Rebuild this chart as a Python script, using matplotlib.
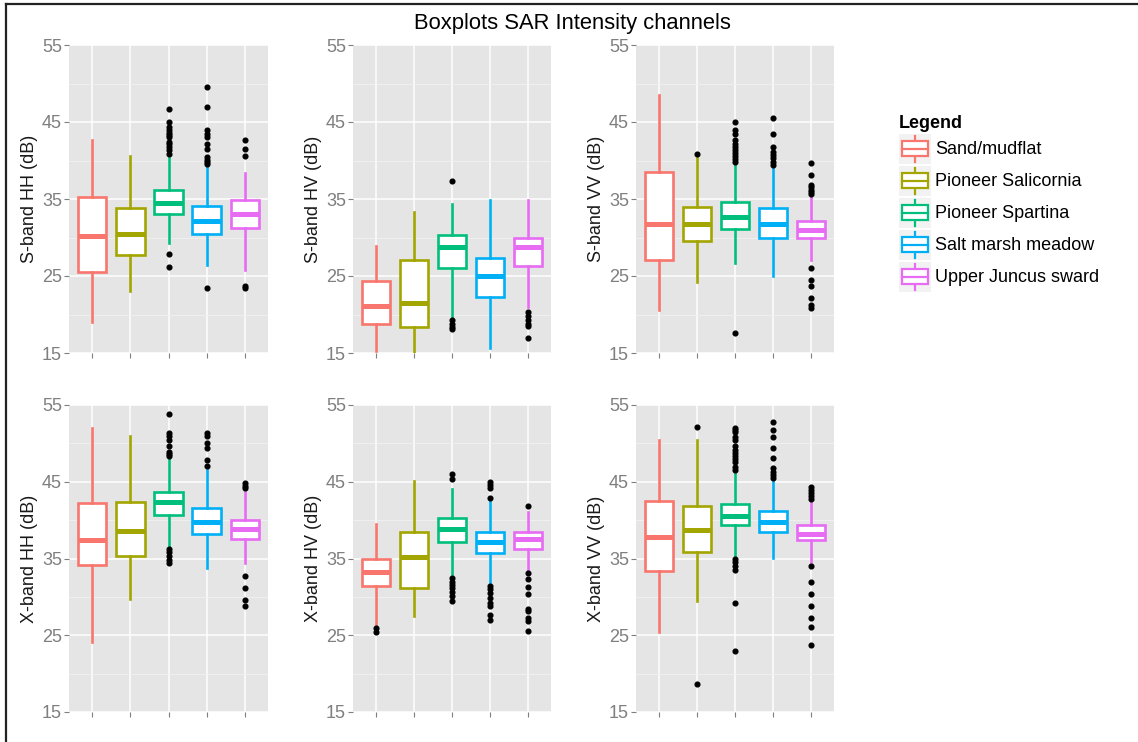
import matplotlib
matplotlib.use("Agg")
import matplotlib.pyplot as plt
from matplotlib.lines import Line2D
from matplotlib.patches import Rectangle
from matplotlib.legend_handler import HandlerBase

plt.rcParams["font.family"] = ["Liberation Sans", "DejaVu Sans"]

CLASSES = ["Sand/mudflat", "Pioneer Salicornia", "Pioneer Spartina",
           "Salt marsh meadow", "Upper Juncus sward"]
COLORS = ["#F8766D", "#A3A500", "#00BF7D", "#00B0F6", "#E76BF3"]

# (lower whisker, Q1, median, Q3, upper whisker) for each class, in dB
S_HH_STATS = [(19.0, 25.5, 30.2, 35.2, 42.7),
              (23.1, 27.7, 30.5, 33.8, 40.6),
              (29.3, 33.1, 34.5, 36.15, 40.3),
              (26.4, 30.5, 32.2, 34.1, 39.4),
              (25.8, 31.25, 33.0, 34.9, 38.4)]
S_HH_OUTLIERS = [[],
                 [],
                 [46.7, 45.0, 44.4, 43.9, 43.6, 43.3, 43.1, 42.4, 42.1, 41.8, 41.3, 40.9, 27.9, 26.2],
                 [49.5, 46.9, 44.0, 43.5, 43.1, 42.2, 41.5, 40.5, 40.1, 39.8, 39.6, 23.5],
                 [42.6, 41.5, 40.6, 23.7, 23.5]]

S_HV_STATS = [(15.3, 18.8, 21.1, 24.4, 28.9),
              (15.0, 18.4, 21.5, 27.05, 33.3),
              (19.6, 26.0, 28.8, 30.3, 34.4),
              (15.6, 22.3, 25.0, 27.4, 34.9),
              (21.0, 26.3, 28.8, 29.95, 34.9)]
S_HV_OUTLIERS = [[],
                 [],
                 [37.4, 19.25, 18.8, 18.4, 18.1],
                 [],
                 [20.3, 19.8, 19.25, 18.8, 18.5, 17.0]]

S_VV_STATS = [(20.55, 27.05, 31.8, 38.5, 48.5),
              (24.2, 29.5, 31.8, 34.0, 40.3),
              (26.7, 31.1, 32.6, 34.55, 39.6),
              (25.0, 30.0, 31.8, 33.8, 39.2),
              (27.05, 29.9, 31.0, 32.15, 35.5)]
S_VV_OUTLIERS = [[],
                 [40.9],
                 [45.0, 43.95, 43.4, 42.6, 42.2, 41.8, 41.4, 41.0, 40.6, 40.2, 39.8, 17.6],
                 [45.5, 43.4, 41.7, 41.1, 40.7, 40.3, 39.8, 39.4],
                 [39.7, 38.1, 36.8, 36.5, 36.2, 35.9, 35.7, 26.1, 24.5, 23.7, 22.2, 21.2, 20.9]]

X_HH_STATS = [(24.1, 34.1, 37.4, 42.2, 52.05),
              (29.7, 35.3, 38.6, 42.3, 50.9),
              (36.5, 40.7, 42.3, 43.7, 48.0),
              (33.8, 38.2, 39.8, 41.6, 46.5),
              (34.4, 37.6, 38.9, 40.0, 43.6)]
X_HH_OUTLIERS = [[],
                 [],
                 [53.8, 51.3, 50.9, 50.4, 49.7, 48.9, 48.6, 48.3, 36.2, 35.8, 35.3, 34.8, 34.4],
                 [51.4, 51.0, 50.1, 49.4, 47.8, 47.0],
                 [44.9, 44.4, 44.2, 32.7, 31.1, 29.6, 28.75]]

X_HV_STATS = [(26.15, 31.4, 33.3, 35.0, 39.5),
              (27.45, 31.1, 35.2, 38.4, 45.15),
              (33.0, 37.2, 38.8, 40.3, 44.1),
              (31.7, 35.7, 37.1, 38.5, 42.7),
              (33.5, 36.2, 37.5, 38.4, 41.1)]
X_HV_OUTLIERS = [[25.9, 25.4],
                 [],
                 [46.0, 45.4, 32.4, 32.0, 31.6, 31.1, 30.7, 30.1, 29.5],
                 [45.0, 44.6, 44.15, 42.85, 31.4, 30.99, 30.5, 29.8, 29.2, 28.75, 27.7, 27.0],
                 [41.8, 33.1, 32.3, 31.35, 30.4, 28.4, 28.1, 27.2, 26.8, 25.5]]

X_VV_STATS = [(25.4, 33.4, 37.8, 42.55, 50.45),
              (29.5, 35.8, 38.7, 41.8, 50.45),
              (35.2, 39.4, 40.55, 42.1, 46.1),
              (35.05, 38.5, 39.8, 41.2, 45.0),
              (34.5, 37.4, 38.2, 39.4, 42.3)]
X_VV_OUTLIERS = [[],
                 [52.1, 18.6],
                 [52.0, 51.75, 51.5, 50.8, 50.4, 49.6, 49.2, 48.8, 48.4, 48.0, 47.6,
                  46.9, 46.5, 34.9, 34.5, 34.05, 33.5, 29.2, 23.0],
                 [52.8, 51.7, 50.8, 49.45, 48.1, 46.75, 46.3, 45.9, 45.45],
                 [44.3, 43.9, 43.5, 43.1, 42.7, 34.0, 31.9, 30.4, 28.75, 27.3, 26.1, 23.7]]

PANEL_LABELS = ["S-band HH (dB)", "S-band HV (dB)", "S-band VV (dB)",
                "X-band HH (dB)", "X-band HV (dB)", "X-band VV (dB)"]
PANEL_STATS = [S_HH_STATS, S_HV_STATS, S_VV_STATS, X_HH_STATS, X_HV_STATS, X_VV_STATS]
PANEL_OUTLIERS = [S_HH_OUTLIERS, S_HV_OUTLIERS, S_VV_OUTLIERS,
                  X_HH_OUTLIERS, X_HV_OUTLIERS, X_VV_OUTLIERS]
Y_TICKS = [15, 25, 35, 45, 55]
Y_MINOR = [20, 30, 40, 50]

W, H = 1138, 742
fig = plt.figure(figsize=(W / 100, H / 100), dpi=100)

PANEL_BG = "#E5E5E5"
TICK_GREY = "#7F7F7F"

# panel rectangles in pixels: left, top, right, bottom
col_x = [(69, 268), (353, 551), (636, 834)]
row_y = [(45, 353), (405, 712)]


def px_axes(x0, y0, x1, y1):
    return fig.add_axes([x0 / W, 1 - y1 / H, (x1 - x0) / W, (y1 - y0) / H])


positions = list(range(1, len(CLASSES) + 1))

for k, (label, stats, outl) in enumerate(zip(PANEL_LABELS, PANEL_STATS, PANEL_OUTLIERS)):
    r, c = divmod(k, 3)
    ax = px_axes(col_x[c][0], row_y[r][0], col_x[c][1], row_y[r][1])
    ax.set_facecolor(PANEL_BG)
    for s in ax.spines.values():
        s.set_visible(False)
    ax.set_xlim(0.4, 5.6)
    ax.set_ylim(15, 55)
    ax.set_yticks(Y_TICKS)
    ax.set_yticks(Y_MINOR, minor=True)
    ax.set_xticks(positions)
    ax.set_xticklabels([])
    ax.grid(True, which="major", color="white", lw=1.1)
    ax.grid(True, which="minor", axis="y", color="#F2F2F2", lw=0.6)
    ax.set_axisbelow(True)
    ax.tick_params(which="major", length=3.5, width=0.8, color=TICK_GREY,
                   labelcolor=TICK_GREY, labelsize=13, pad=1.5)
    ax.tick_params(which="minor", length=0)
    ax.set_ylabel(label, fontsize=13, color="#1A1A1A", labelpad=3)

    bxstats = []
    for (lo, q1, med, q3, hi), fl in zip(stats, outl):
        bxstats.append(dict(whislo=lo, q1=q1, med=med, q3=q3, whishi=hi, fliers=fl))
    for i, (st, col) in enumerate(zip(bxstats, COLORS)):
        ax.bxp([st], positions=[positions[i]], widths=0.75, patch_artist=True,
               showcaps=False,
               boxprops=dict(facecolor="white", edgecolor=col, lw=1.9),
               whiskerprops=dict(color=col, lw=1.9),
               medianprops=dict(color=col, lw=3.6, solid_capstyle="butt"),
               flierprops=dict(marker="o", markersize=3.4, markerfacecolor="black",
                               markeredgecolor="black"),
               manage_ticks=False)

fig.text(572 / W, 1 - 24 / H, "Boxplots SAR Intensity channels", fontsize=15.8,
         ha="center", va="center", color="black")

# figure frame (top and left edges)
fig.add_artist(Line2D([5.5 / W, 1], [1 - 4 / H, 1 - 4 / H], color="#222222", lw=1.6,
                      transform=fig.transFigure))
fig.add_artist(Line2D([6 / W, 6 / W], [0, 1 - 4 / H], color="#222222", lw=1.6,
                      transform=fig.transFigure))


class BoxKeyHandler(HandlerBase):
    def create_artists(self, legend, orig_handle, xdescent, ydescent, width, height,
                       fontsize, trans):
        col = orig_handle.get_color()
        x0, y0 = -xdescent, -ydescent
        bg = Rectangle((x0, y0), width, height, facecolor="#F2F2F2", edgecolor="none",
                       transform=trans)
        cx = x0 + width / 2
        whisk = Line2D([cx, cx], [y0 + 0.07 * height, y0 + 0.93 * height], color=col,
                       lw=1.6, transform=trans)
        box = Rectangle((x0 + 0.1 * width, y0 + 0.25 * height), 0.8 * width, 0.5 * height,
                        facecolor="white", edgecolor=col, lw=1.6, transform=trans)
        med = Line2D([x0 + 0.1 * width, x0 + 0.9 * width], [y0 + 0.5 * height] * 2,
                     color=col, lw=1.6, transform=trans)
        return [bg, whisk, box, med]


handles = [Line2D([], [], color=c) for c in COLORS]
leg = fig.legend(handles, CLASSES, loc="upper left",
                 bbox_to_anchor=(893 / W, 1 - 109 / H), bbox_transform=fig.transFigure,
                 frameon=False, fontsize=13, title="Legend",
                 title_fontproperties=dict(weight="bold", size=13),
                 handler_map={Line2D: BoxKeyHandler()},
                 handlelength=1.77, handleheight=2.18, labelspacing=0.11,
                 handletextpad=0.22, borderpad=0.32, borderaxespad=0, alignment="left")

fig.savefig("out.png", dpi=100)
